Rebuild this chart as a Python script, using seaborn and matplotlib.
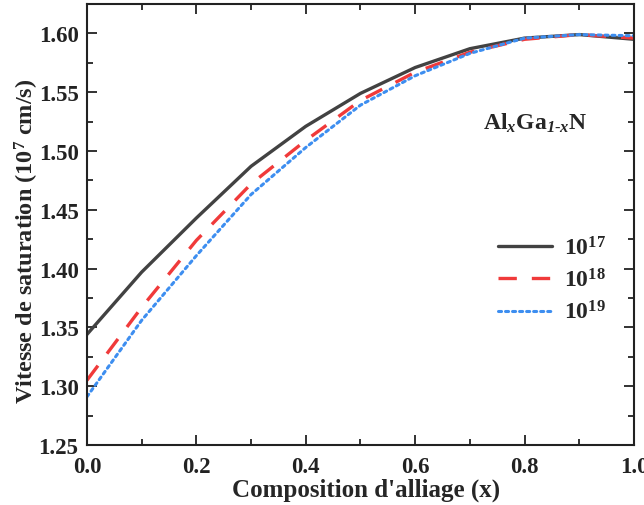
import matplotlib
matplotlib.use("Agg")
import matplotlib.pyplot as plt
from matplotlib.ticker import MultipleLocator, FormatStrFormatter
import pandas as pd
import seaborn as sns

# Alloy composition and saturation velocity (1e7 cm/s) for three doping levels
composition = [0.0, 0.1, 0.2, 0.3, 0.4, 0.5, 0.6, 0.7, 0.8, 0.9, 1.0]
v_1e17 = [1.344, 1.397, 1.443, 1.487, 1.521, 1.549, 1.571, 1.587, 1.596, 1.599, 1.595]
v_1e18 = [1.305, 1.367, 1.424, 1.472, 1.509, 1.543, 1.567, 1.584, 1.595, 1.599, 1.596]
v_1e19 = [1.291, 1.356, 1.411, 1.463, 1.503, 1.539, 1.564, 1.583, 1.596, 1.599, 1.598]
doping_labels = [r"$\mathbf{10^{17}}$", r"$\mathbf{10^{18}}$", r"$\mathbf{10^{19}}$"]

sns.set_theme(style="ticks")
plt.rcParams["font.family"] = ["Liberation Serif", "DejaVu Serif"]
plt.rcParams["font.weight"] = "bold"
plt.rcParams["mathtext.fontset"] = "custom"
plt.rcParams["mathtext.rm"] = "Liberation Serif"
plt.rcParams["mathtext.it"] = "Liberation Serif:italic"
plt.rcParams["mathtext.bf"] = "Liberation Serif:bold"
plt.rcParams["mathtext.bfit"] = "Liberation Serif:italic:bold"

df = pd.DataFrame({"x": composition * 3,
                   "v": v_1e17 + v_1e18 + v_1e19,
                   "dop": sum([[l] * len(composition) for l in doping_labels], [])})

fig = plt.figure(figsize=(6.44, 5.06), dpi=100)
ax = fig.add_axes([0.135, 0.1186, 0.8495, 0.8715])

styles = [
    dict(color="#424242", linewidth=2.4, linestyle="-"),
    dict(color="#f03a3a", linewidth=2.4, dashes=(5.5, 4.5)),
    dict(color="#3d8ef0", linewidth=2.2, dashes=(1, 1.3), dash_capstyle="round"),
]
for lab, st in zip(doping_labels, styles):
    sub = df[df["dop"] == lab]
    sns.lineplot(data=sub, x="x", y="v", ax=ax, label=lab, **st)

ax.set_xlim(0.0, 1.0)
ax.set_ylim(1.25, 1.625)
ax.xaxis.set_major_locator(MultipleLocator(0.2))
ax.xaxis.set_minor_locator(MultipleLocator(0.1))
ax.yaxis.set_major_locator(MultipleLocator(0.05))
ax.yaxis.set_minor_locator(MultipleLocator(0.025))
ax.xaxis.set_major_formatter(FormatStrFormatter("%.1f"))
ax.yaxis.set_major_formatter(FormatStrFormatter("%.2f"))
ax.tick_params(which="both", direction="in", top=True, right=True, width=1.3, colors="#222222")
ax.tick_params(which="major", length=7, labelsize=16.5)
ax.tick_params(axis="y", which="major", pad=6)
ax.tick_params(axis="x", which="major", pad=8)
ax.tick_params(which="minor", length=4)
for lbl in ax.get_xticklabels() + ax.get_yticklabels():
    lbl.set_fontweight("bold")
for sp in ax.spines.values():
    sp.set_linewidth(1.5)
    sp.set_color("#222222")

ax.set_xlabel("Composition d'alliage (x)", fontsize=18, fontweight="bold")
ax.set_ylabel(r"Vitesse de saturation (10$^{\mathbf{7}}$ cm/s)", fontsize=17.5, fontweight="bold")
ax.xaxis.set_label_coords(0.511, -0.075)
ax.yaxis.set_label_coords(-0.084, 0.463)

ax.text(0.82, 0.732, r"$\mathbf{Al}_{\mathbfit{x}}\mathbf{Ga}_{\mathbfit{1\text{-}x}}\mathbf{N}$",
        transform=ax.transAxes, fontsize=17, ha="center", va="center")

ax.legend(loc="center left", bbox_to_anchor=(0.712, 0.374), frameon=False, fontsize=17,
          handlelength=2.3, handletextpad=0.5, labelspacing=0.38)

fig.savefig("out.png", dpi=100, facecolor="white")
